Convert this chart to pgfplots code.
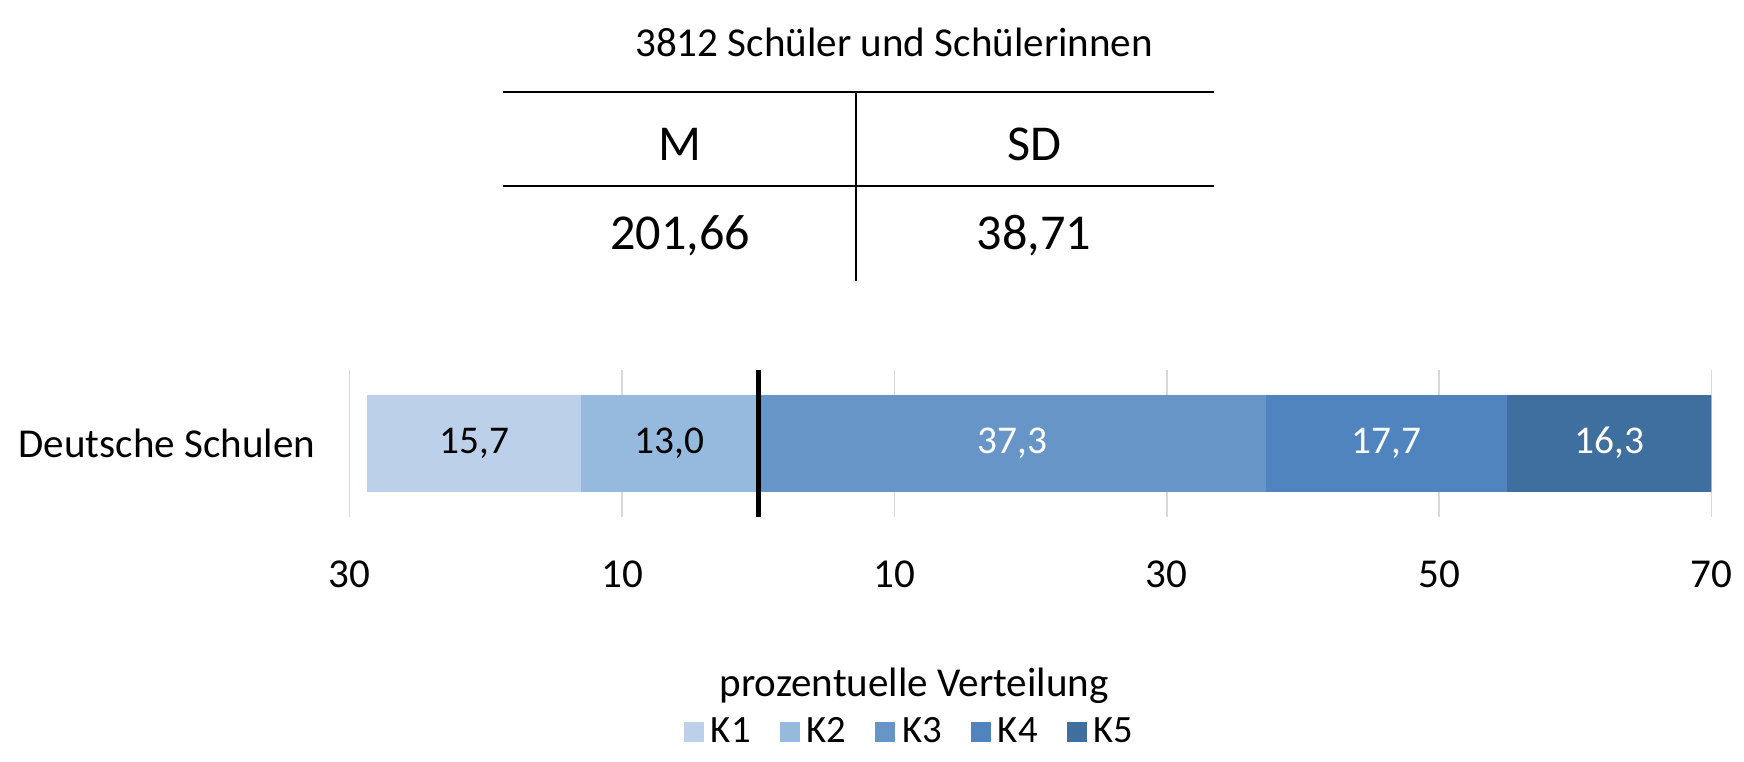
\documentclass[border=0pt]{standalone}
\usepackage{fontspec}
\setmainfont{Carlito}
\usepackage{pgfplots}
\pgfplotsset{compat=1.18}
\definecolor{kA}{RGB}{189,208,234}
\definecolor{kB}{RGB}{150,185,222}
\definecolor{kC}{RGB}{104,149,200}
\definecolor{kD}{RGB}{79,132,190}
\definecolor{kE}{RGB}{63,111,158}
\definecolor{gridgray}{RGB}{217,217,217}
\newcommand\mainfs{\fontsize{11.7}{14}\selectfont}
\newcommand\tabfs{\fontsize{14.3}{17}\selectfont}
\pgfplotsset{seg/.style={fill=#1, draw=none, point meta=explicit,
  nodes near coords={\pgfmathprintnumber[use comma,fixed,fixed zerofill,precision=1,assume math mode=true]{\pgfplotspointmeta}},
  every node near coord/.append style={font=\fontsize{11.2}{13}\selectfont}}}

\begin{document}
\begin{tikzpicture}
\path (0,0) rectangle (174.4mm,-74.7mm);
% title and M/SD table (1 unit = 1 px of the reference)
\begin{scope}[x=0.1mm,y=-0.1mm]
\node[font=\mainfs] at (895,42) {3812 Schüler und Schülerinnen};
\draw[line width=0.2mm] (503,92) -- (1215,92) (503,186) -- (1215,186) (857,92) -- (857,281);
\node[font=\tabfs] at (681,145) {M};
\node[font=\tabfs] at (1035,145) {SD};
\node[font=\tabfs] at (681,236) {201,66};
\node[font=\tabfs] at (1035,236) {38,71};
\end{scope}

\begin{axis}[
  name=ax,
  at={(35mm,-51.7mm)}, anchor=south west,
  scale only axis, width=136.3mm, height=14.7mm,
  set layers, clip mode=individual,
  xbar stacked, stack negative=on previous, bar width=9.7mm,
  xmin=-30, xmax=70, ymin=-0.75, ymax=0.75,
  xtick={-30,-10,10,30,50,70},
  xticklabels={30,10,10,30,50,70},
  ytick={0}, yticklabels={Deutsche Schulen},
  xmajorgrids, major grid style={gridgray, line width=0.15mm},
  axis line style={draw=none},
  major tick length=0pt,
  tick label style={font=\mainfs},
  xticklabel style={anchor=base, yshift=-7.1mm},
  yticklabel style={xshift=-2.2mm},
  xlabel={prozentuelle Verteilung},
  xlabel style={at={(axis description cs:0.4145,-1.15)}, anchor=center, font=\mainfs},
  legend style={at={(0.413,-1.47)}, anchor=center, draw=none, fill=none,
    legend columns=-1, font=\fontsize{11}{13}\selectfont,
    /tikz/every even column/.append style={column sep=2.2mm}},
  legend image code/.code={\draw[#1,draw=none,/tikz/.cd] (0mm,-1mm) rectangle (2mm,1mm);},
]
% offset so that K1+K2 lie left of zero
\addplot[draw=none, fill=none] coordinates {(-28.7,0)};
\addplot[seg=kA, every node near coord/.append style={black}] coordinates {(15.7,0) [15.7]};
\addplot[seg=kB, every node near coord/.append style={black}] coordinates {(13.0,0) [13.0]};
\addplot[seg=kC, every node near coord/.append style={white}] coordinates {(37.3,0) [37.3]};
\addplot[seg=kD, every node near coord/.append style={white}] coordinates {(17.7,0) [17.7]};
\addplot[fill=kE, draw=none] coordinates {(16.3,0)};
% zero line
\addplot[stack plots=false, sharp plot, black, line width=0.5mm, forget plot, on layer=axis foreground] coordinates {(0,-0.75) (0,0.75)};
\legend{,K1,K2,K3,K4,K5}
\end{axis}
% K5 label, centred in the visible part of its bar (55 to 70 on -30..70)
\path (ax.west) -- (ax.east) node[pos=0.925, white, font=\fontsize{11.2}{13}\selectfont] {16,3};
\end{tikzpicture}
\end{document}
